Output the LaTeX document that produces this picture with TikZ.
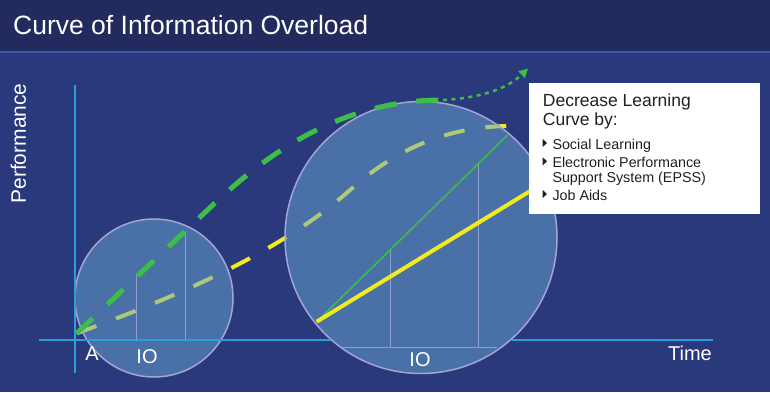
\documentclass[tikz,border=0pt]{standalone}
\usepackage{fontspec}
\setmainfont{Liberation Sans}
\usepackage{xcolor}
\usepackage{tikz}
\usetikzlibrary{arrows.meta}

\definecolor{navy}{RGB}{42,56,124}
\definecolor{titlebar}{RGB}{35,42,94}
\definecolor{sepline}{RGB}{64,86,168}
\definecolor{axisblue}{RGB}{41,160,220}
\definecolor{bubble}{RGB}{106,168,212}
\definecolor{rimcol}{RGB}{165,165,212}
\definecolor{gridcol}{RGB}{140,160,205}
\definecolor{curvegreen}{RGB}{61,190,72}
\definecolor{curveyellow}{RGB}{240,235,30}
\definecolor{boxtext}{RGB}{35,31,32}

\tikzset{
  bubblestyle/.style={fill=bubble, fill opacity=0.5, draw=rimcol, draw opacity=1, line width=1.5pt},
  marker/.style={gridcol, line width=1pt},
  lbl/.style={text=white, inner sep=0pt, font=\fontsize{20}{20}\selectfont},
  boxline/.style={text=boxtext, inner sep=0pt, anchor=base west}
}

\begin{document}
\begin{tikzpicture}[x=1pt,y=1pt]
            % frame and title bar
            \useasboundingbox (0,0) rectangle (770,392);
            \fill[navy] (0,0) rectangle (770,392);
            \fill[titlebar] (0,341) rectangle (770,392);
            \fill[sepline] (0,339.5) rectangle (770,341.5);
            \node[text=white, inner sep=0pt, anchor=base west, font=\fontsize{26.5}{26.5}\selectfont] (title) at (13,357) {Curve of Information Overload};

            % curve points
            \coordinate (orig) at (76.7,58.7);

            % Draw yellow curve (under the bubbles)
            \draw[curveyellow, line width=4pt, dash pattern=on 21pt off 21pt] (orig) .. controls (190,100) and (285,144) .. (350,202) .. controls (395,242) and (445,265) .. (508,266);

            % Draw bubbles
            \node[circle, bubblestyle, minimum size=158pt, inner sep=0pt] (small) at (154,94) {};
            \node[circle, bubblestyle, minimum size=272pt, inner sep=0pt] (big) at (421,154.5) {};

            % Draw axes
            \draw[axisblue, line width=2pt] (39.3,52.5) -- (330.5,52.5);
            \draw[axisblue, line width=2pt] (511.5,52.5) -- (713.3,52.5);
            \draw[axisblue, line width=2pt] (75,19) -- (75,307);

            % markers in the small bubble
            \foreach \x/\y in {136/118, 185.7/161.3} {
              \draw[marker] (\x,52.5) -- (\x,\y);
            }
            % markers in the big bubble
            \foreach \x/\y in {390/142, 478.7/228.6} {
              \draw[marker] (\x,44.3) -- (\x,\y);
            }
            \draw[marker] (343,44.3) -- (497,44.3);

            % Draw green curve and arrow
            \draw[curvegreen, line width=5pt, dash pattern=on 22pt off 20pt] (orig) -- (215,189) .. controls (265,236) and (340,292) .. (442,292);
            \coordinate (dotstart) at (443,292);
            \coordinate (dotend) at (528,323.5);
            \draw[curvegreen, line width=2.5pt, dash pattern=on 4pt off 4.5pt, -{Triangle[length=9pt,width=9pt]}] (dotstart) .. controls (480,294) and (507,303) .. (dotend);

            % Draw slopes
            \coordinate (lowstart) at (316.7,70.3);
            \draw[curvegreen, line width=1.5pt] (lowstart) -- (507.7,257);
            \draw[curveyellow, line width=4pt] (lowstart) -- (540,207);

            % legend box
            \node[fill=white, minimum width=231pt, minimum height=131.3pt, inner sep=0pt, anchor=north west] (box) at (529,309.3) {};
            \node[boxline, font=\fontsize{17.5}{17.5}\selectfont] (head1) at (542.7,285.3) {Decrease Learning};
            \node[boxline, font=\fontsize{17.5}{17.5}\selectfont] (head2) at (542.7,266.3) {Curve by:};
            \node[boxline, font=\fontsize{14.3}{14.3}\selectfont] (item1) at (552.3,243) {Social Learning};
            \node[boxline, font=\fontsize{14.3}{14.3}\selectfont] (item2) at (552.3,224.7) {Electronic Performance};
            \node[boxline, font=\fontsize{14.3}{14.3}\selectfont] (item3) at (552.3,209.7) {Support System (EPSS)};
            \node[boxline, font=\fontsize{14.3}{14.3}\selectfont] (item4) at (552.3,192) {Job Aids};
            \foreach \y in {249, 230.7, 198} {
              \fill[boxtext] (542.7,\y+4) -- (542.7,\y-4) -- (547,\y) -- cycle;
            }

            % % Add labels
            \node[lbl, rotate=90, font=\fontsize{21}{21}\selectfont] (perf) at (18.5,248.5) {Performance};
            \node[lbl] (time) at (690,38.5) {Time};
            \node[lbl] (a) at (92,38) {A};
            \node[lbl] (io1) at (147,35.5) {IO};
            \node[lbl] (io2) at (420,32) {IO};
\end{tikzpicture}
\end{document}
